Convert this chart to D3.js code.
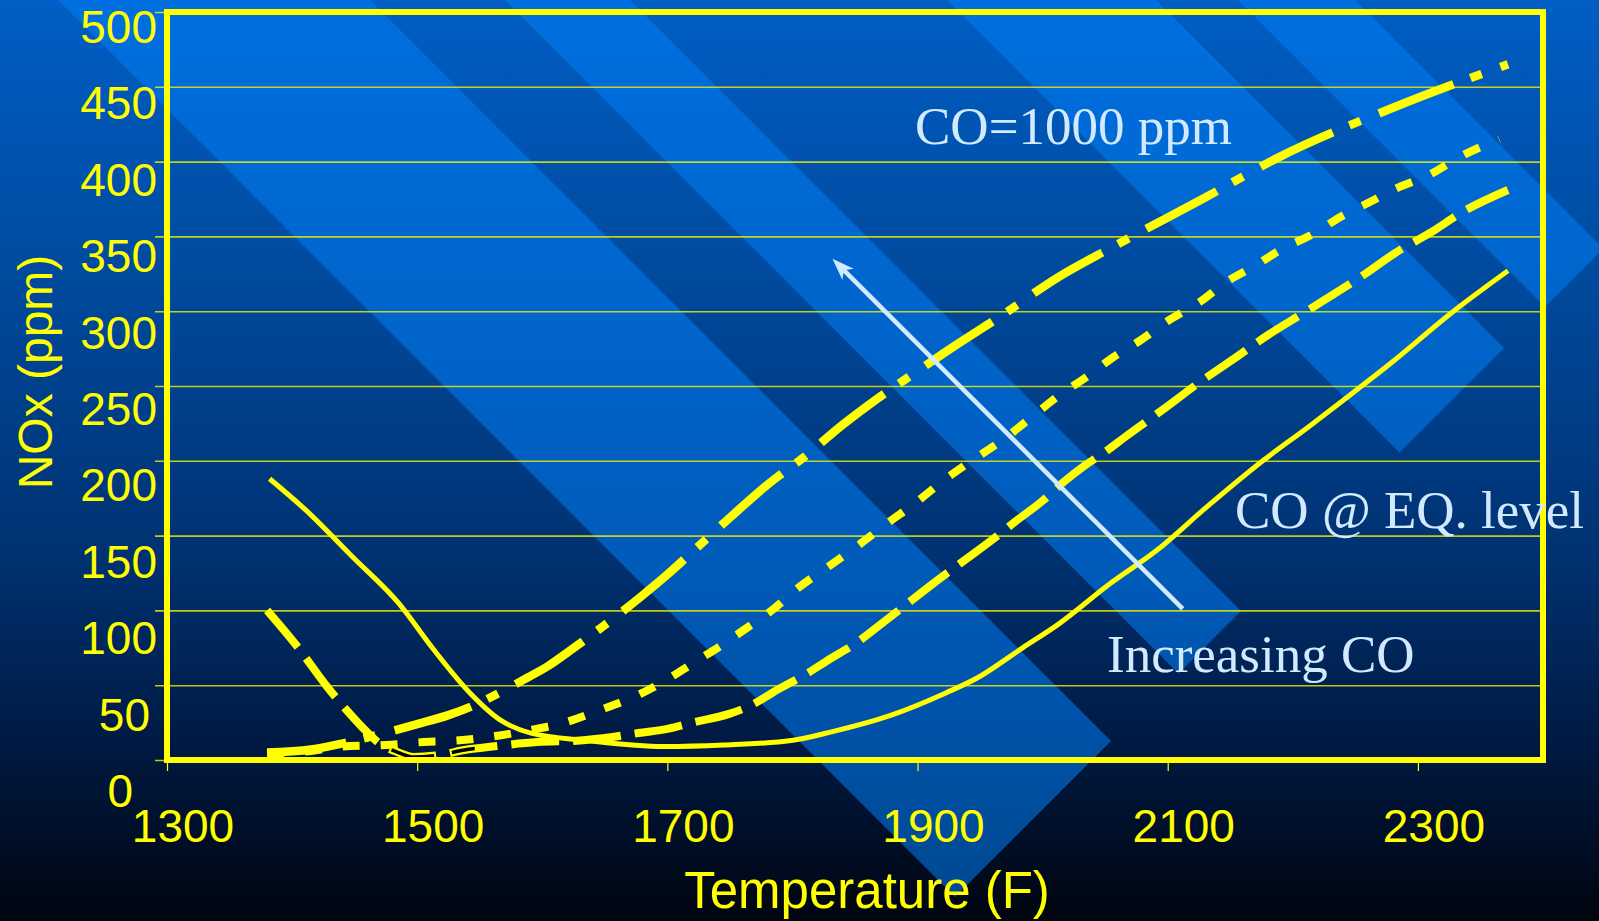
<!DOCTYPE html>
<html>
<head>
<meta charset="utf-8">
<script src="https://cdn.jsdelivr.net/npm/d3@7"></script>
<style>
  html, body { margin: 0; padding: 0; background: #000; overflow: hidden; }
  svg { display: block; }
</style>
</head>
<body>
<svg id="chart" width="1599" height="921"></svg>
<script>
// ---- data -------------------------------------------------------------
const tempTicks = [1300, 1500, 1700, 1900, 2100, 2300];
const noxTicks = [0, 50, 100, 150, 200, 250, 300, 350, 400, 450, 500];

// NOx (ppm) versus temperature (F), one array of [temperature, NOx] per CO level
const coEq = [
  [1382, 188], [1411, 167], [1448, 136], [1485, 105], [1513, 74], [1542, 45],
  [1566, 27], [1591, 18], [1636, 13], [1697, 9], [1745, 10], [1799, 13],
  [1832, 19], [1879, 30], [1923, 45], [1948, 55], [1984, 75], [2013, 91],
  [2054, 118], [2091, 140], [2131, 169], [2176, 200], [2213, 223], [2238, 239],
  [2278, 265], [2327, 299], [2372, 327]
];
const co1000 = [
  [1380, 5], [1415, 7], [1440, 11], [1460, 15], [1500, 24], [1525, 30],
  [1544, 36], [1566, 45], [1588, 55], [1605, 63], [1622, 73], [1648, 89],
  [1680, 110], [1700, 124], [1725, 143], [1750, 162], [1780, 184], [1810, 203],
  [1840, 224], [1872, 244], [1900, 260], [1930, 277], [1967, 297], [2011, 322],
  [2056, 343], [2130, 376], [2189, 403], [2280, 436], [2372, 465]
];
const coMid = [
  [1380, 4], [1415, 6], [1440, 9], [1475, 10], [1505, 12], [1532, 13],
  [1563, 16], [1590, 20], [1618, 25], [1645, 33], [1678, 44], [1700, 54],
  [1721, 65], [1742, 76], [1763, 88], [1785, 101], [1803, 114], [1830, 130],
  [1855, 145], [1877, 159], [1897, 171], [1921, 187], [1945, 201], [1968, 214],
  [1991, 229], [2012, 243], [2035, 256], [2056, 269], [2079, 281], [2101, 294],
  [2127, 307], [2146, 319], [2171, 331], [2190, 341], [2217, 352], [2238, 363],
  [2264, 374], [2280, 381], [2311, 392], [2331, 402], [2365, 415]
];
const coLow = [
  [1380, 100], [1404, 76], [1428, 49], [1445, 32], [1456, 22], [1470, 11],
  [1485, 5], [1497, 2], [1515, 3], [1540, 7], [1560, 9], [1596, 12],
  [1630, 13], [1653, 15], [1677, 18], [1701, 21], [1720, 25], [1750, 31],
  [1768, 37], [1784, 45], [1812, 58], [1827, 66], [1854, 80], [1871, 91],
  [1888, 102], [1911, 117], [1940, 135], [1964, 150], [1976, 158], [2001, 174],
  [2017, 186], [2034, 197], [2050, 206], [2066, 216], [2099, 236], [2123, 251],
  [2156, 270], [2180, 284], [2209, 299], [2234, 312], [2258, 325], [2282, 339],
  [2311, 353], [2335, 366], [2372, 381]
];

const labelTop = "CO=1000 ppm";
const labelEq = "CO @ EQ. level";
const labelArrow = "Increasing CO";
const arrowFrom = [2112, 101];
const arrowTo = [1832, 335];
// temperature span where the lowest curve's dashes are drawn hollow
const hollowSpan = [1474, 1546];

// ---- layout -----------------------------------------------------------
const W = 1599, H = 921;
const plot = { left: 167, right: 1543, top: 12, bottom: 760 };

const x = d3.scaleLinear().domain([1300, 2400]).range([plot.left, plot.right]);
const y = d3.scaleLinear().domain([0, 500]).range([plot.bottom, plot.top]);
// tick labels sit on their own, slightly wider, vertical scale
const yLabel = d3.scaleLinear().domain([0, 500]).range([807, 43]);

const YELLOW = "#ffff00";
const PALE = "#d2eaff";

const svg = d3.select("#chart");
const defs = svg.append("defs");

const bg = defs.append("linearGradient")
  .attr("id", "bgGrad").attr("x1", 0).attr("y1", 0).attr("x2", 0).attr("y2", 1);
[[0, "#005ec4"], [0.3, "#004a9e"], [0.6, "#003272"], [0.82, "#00183f"], [1, "#00050f"]]
  .forEach(([o, c]) => bg.append("stop").attr("offset", o).attr("stop-color", c));

svg.append("rect").attr("width", W).attr("height", H).attr("fill", "url(#bgGrad)");

// diagonal ribbons of the slide backdrop, each running down-right at 45°
// and squared off along the line x + y = capLine
const capLine = 1852;
const ribbons = [[58, 370], [505, 630], [947, 1156], [1238, 1355]];
svg.append("g").selectAll("polygon")
  .data(ribbons)
  .join("polygon")
  .attr("points", ([c1, c2]) => {
    const pts = [
      [c1 - 60, -60], [c2 - 60, -60],
      [(capLine + c2) / 2, (capLine - c2) / 2],
      [(capLine + c1) / 2, (capLine - c1) / 2]
    ];
    return pts.map(p => p.join(",")).join(" ");
  })
  .attr("fill", "rgb(0,125,245)")
  .attr("fill-opacity", 0.56);

// ---- grid and ticks ---------------------------------------------------
const gridG = svg.append("g")
  .attr("transform", `translate(${plot.left - 12},0)`)
  .call(d3.axisLeft(y).tickValues(noxTicks).tickSize(-(plot.right - plot.left + 12)).tickFormat(""));
gridG.select(".domain").remove();
gridG.selectAll("line").attr("stroke", "#f2f200").attr("stroke-width", 1.6).attr("stroke-opacity", 0.8);

const xTickG = svg.append("g")
  .attr("transform", `translate(0,${plot.bottom})`)
  .call(d3.axisBottom(x).tickValues(tempTicks).tickSize(11).tickFormat(""));
xTickG.select(".domain").remove();
xTickG.selectAll("line").attr("stroke", YELLOW).attr("stroke-width", 1.2);

// ---- curves -----------------------------------------------------------
const line = d3.line()
  .x(d => x(d[0]))
  .y(d => y(d[1]))
  .curve(d3.curveMonotoneX);

const series = [
  { data: coLow, width: 8, dash: "48,14" },
  { data: coMid, width: 8, dash: "17,21" },
  { data: co1000, width: 8.5, dash: "80,18,12,20" },
  { data: coEq, width: 5, dash: null }
];

svg.append("g").selectAll("path")
  .data(series)
  .join("path")
  .attr("d", s => line(s.data))
  .attr("fill", "none")
  .attr("stroke", YELLOW)
  .attr("stroke-width", s => s.width)
  .attr("stroke-dasharray", s => s.dash)
  .attr("stroke-linecap", "butt")
  .attr("stroke-linejoin", "miter");

// hollow dashes near the minimum of the lowest curve
defs.append("clipPath").attr("id", "hollowClip")
  .append("rect")
  .attr("x", x(hollowSpan[0])).attr("width", x(hollowSpan[1]) - x(hollowSpan[0]))
  .attr("y", y(30)).attr("height", y(0) - y(30));
svg.append("path")
  .attr("d", line(coLow))
  .attr("clip-path", "url(#hollowClip)")
  .attr("fill", "none")
  .attr("stroke", "#000")
  .attr("stroke-width", 3.5)
  .attr("stroke-dasharray", "44,18")
  .attr("stroke-dashoffset", -2);

// ---- frame ------------------------------------------------------------
svg.append("rect")
  .attr("x", plot.left).attr("y", plot.top)
  .attr("width", plot.right - plot.left).attr("height", plot.bottom - plot.top)
  .attr("fill", "none").attr("stroke", YELLOW).attr("stroke-width", 6);

// ---- tick labels & titles --------------------------------------------
const sans = "'Liberation Sans', Arial, sans-serif";
const serif = "'Liberation Serif', 'Times New Roman', serif";

svg.append("g").selectAll("text")
  .data(noxTicks)
  .join("text")
  .attr("x", d => d === 0 ? 133 : d === 50 ? 150 : 157)
  .attr("y", d => yLabel(d))
  .attr("text-anchor", "end")
  .attr("font-family", sans).attr("font-size", 46)
  .attr("fill", YELLOW)
  .text(d => d);

svg.append("g").selectAll("text")
  .data(tempTicks)
  .join("text")
  .attr("x", d => x(d) + 16)
  .attr("y", 842)
  .attr("text-anchor", "middle")
  .attr("font-family", sans).attr("font-size", 46)
  .attr("fill", YELLOW)
  .text(d => d);

svg.append("text")
  .attr("x", 867).attr("y", 908)
  .attr("text-anchor", "middle")
  .attr("font-family", sans).attr("font-size", 51)
  .attr("fill", YELLOW)
  .text("Temperature (F)");

svg.append("text")
  .attr("transform", "translate(52,372) rotate(-90)")
  .attr("text-anchor", "middle")
  .attr("font-family", sans).attr("font-size", 48)
  .attr("fill", YELLOW)
  .text("NOx (ppm)");

// ---- annotations ------------------------------------------------------
const notes = [
  { text: labelTop, x: 915, y: 144 },
  { text: labelEq, x: 1235, y: 528 },
  { text: labelArrow, x: 1107, y: 672 }
];
svg.append("g").selectAll("text")
  .data(notes)
  .join("text")
  .attr("x", d => d.x).attr("y", d => d.y)
  .attr("font-family", serif).attr("font-size", 53)
  .attr("fill", PALE)
  .text(d => d.text);

// arrow pointing toward higher CO
const ax0 = x(arrowFrom[0]), ay0 = y(arrowFrom[1]);
const ax1 = x(arrowTo[0]), ay1 = y(arrowTo[1]);
const ang = Math.atan2(ay1 - ay0, ax1 - ax0);
const headLen = 22, headHalf = 8, notch = 6;
svg.append("line")
  .attr("x1", ax0).attr("y1", ay0)
  .attr("x2", ax1 - Math.cos(ang) * (headLen - notch))
  .attr("y2", ay1 - Math.sin(ang) * (headLen - notch))
  .attr("stroke", PALE).attr("stroke-width", 4.5);
const rot = (dx, dy) => [ax1 + dx * Math.cos(ang) - dy * Math.sin(ang), ay1 + dx * Math.sin(ang) + dy * Math.cos(ang)];
const head = [rot(0, 0), rot(-headLen, headHalf), rot(-headLen + notch, 0), rot(-headLen, -headHalf)];
svg.append("polygon")
  .attr("points", head.map(p => p.join(",")).join(" "))
  .attr("fill", PALE);
</script>
</body>
</html>
